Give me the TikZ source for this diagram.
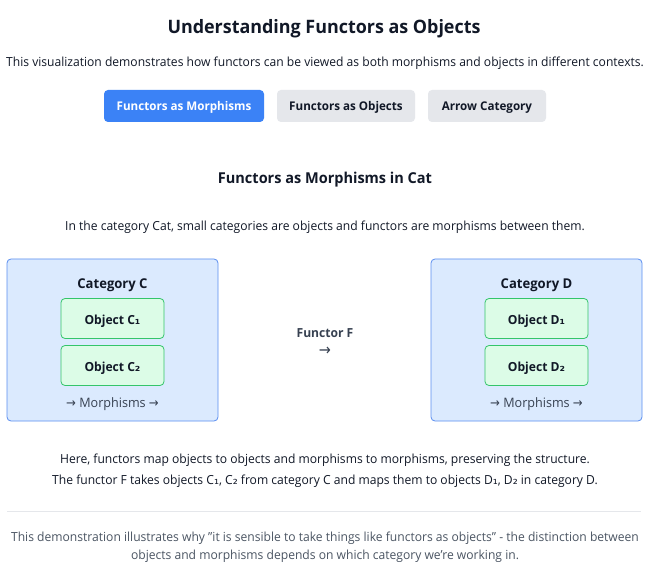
\documentclass[tikz,border=0pt]{standalone}
\usepackage{fontspec}
\setmainfont{Open Sans}[FakeStretch=0.968]
\newfontfamily\arrowfont{DejaVu Sans}[FakeStretch=0.9]
\newfontfamily\subfont{DejaVu Sans}
\newcommand\lowone{{\subfont ₁}}
\newcommand\lowtwo{{\subfont ₂}}
\definecolor{btnblue}{HTML}{3B82F6}
\definecolor{btngray}{HTML}{E5E7EB}
\definecolor{ink}{HTML}{111827}
\definecolor{catfill}{HTML}{DBEAFE}
\definecolor{catline}{HTML}{5B8EF0}
\definecolor{objfill}{HTML}{DCFCE7}
\definecolor{objline}{HTML}{34C56A}
\definecolor{morph}{HTML}{374151}
\definecolor{note}{HTML}{4B5563}
\definecolor{sep}{HTML}{E5E7EB}
\begin{document}
\begin{tikzpicture}[x=1pt,y=-1pt,
  txt/.style={text=ink, inner sep=0pt, anchor=mid},
  btn/.style={rounded corners=4pt, minimum height=32pt, inner sep=0pt, text height=9pt, text depth=0pt, font=\fontsize{12}{14}\selectfont\bfseries},
  catbox/.style={draw=catline, fill=catfill, rounded corners=4pt, line width=0.8pt, minimum width=211pt, minimum height=162pt, inner sep=0pt},
  objbox/.style={draw=objline, fill=objfill, rounded corners=4pt, line width=0.8pt, minimum width=103pt, minimum height=40pt, inner sep=0pt, text height=12pt, text depth=0pt, text=ink, font=\fontsize{12.5}{14}\selectfont\bfseries},
  morphtxt/.style={txt, text=morph, font=\fontsize{13}{14}\selectfont},
  cattitle/.style={txt, font=\fontsize{13.5}{16}\selectfont\bfseries}
]
\useasboundingbox (0,0) rectangle (648,580);
\fill[white] (0,0) rectangle (648,580);

\node[txt, font=\fontsize{18.5}{22}\selectfont\bfseries] (title) at (324,30.5) {Understanding Functors as Objects};
\node[txt, font=\fontsize{12.5}{15}\selectfont] (sub) at (325,64) {This visualization demonstrates how functors can be viewed as both morphisms and objects in different contexts.};

\node[btn, fill=btnblue, text=white, minimum width=160pt] (b1) at (184,106) {Functors as Morphisms};
\node[btn, fill=btngray, text=ink, minimum width=138pt] (b2) at (346,106) {Functors as Objects};
\node[btn, fill=btngray, text=ink, minimum width=118pt] (b3) at (487,106) {Arrow Category};

\node[txt, font=\fontsize{15}{18}\selectfont\bfseries] (head) at (325,181) {Functors as Morphisms in Cat};
\node[txt, font=\fontsize{12.5}{15}\selectfont] (intro) at (325,228) {In the category Cat, small categories are objects and functors are morphisms between them.};

% Category C
\node[catbox] (catC) at (112.5,340) {};
\node[cattitle] (catCt) at (112.5,285.5) {Category C};
\node[objbox] (c1) at (112.5,318.5) {Object C\lowone};
\node[objbox] (c2) at (112.5,365.5) {Object C\lowtwo};
\node[morphtxt] (mC) at (112.5,405) {{\arrowfont →} Morphisms {\arrowfont →}};

% Category D
\node[catbox] (catD) at (536.5,340) {};
\node[cattitle] (catDt) at (536.5,285.5) {Category D};
\node[objbox] (d1) at (536.5,318.5) {Object D\lowone};
\node[objbox] (d2) at (536.5,365.5) {Object D\lowtwo};
\node[morphtxt] (mD) at (536.5,405) {{\arrowfont →} Morphisms {\arrowfont →}};

% Functor
\node[txt, text=morph, font=\fontsize{12.5}{15}\selectfont\bfseries] (fF) at (325,334.5) {Functor F};
\node[txt, text=morph, font=\fontsize{16}{16}\selectfont\arrowfont] (fA) at (325,353) {→};

\node[txt, font=\fontsize{12.5}{15}\selectfont] (e1) at (325,461) {Here, functors map objects to objects and morphisms to morphisms, preserving the structure.};
\node[txt, font=\fontsize{12.5}{15}\selectfont] (e2) at (325,482) {The functor F takes objects C\lowone, C\lowtwo{} from category C and maps them to objects D\lowone, D\lowtwo{} in category D.};

\coordinate (sl) at (7,511);
\coordinate (sr) at (641,511);
\draw[sep, line width=0.8pt] (sl) -- (sr);

\node[txt, text=note, font=\fontsize{12.5}{15}\selectfont] (n1) at (325,538.5) {This demonstration illustrates why "it is sensible to take things like functors as objects" - the distinction between};
\node[txt, text=note, font=\fontsize{12.5}{15}\selectfont] (n2) at (325,556.5) {objects and morphisms depends on which category we're working in.};
\end{tikzpicture}
\end{document}
